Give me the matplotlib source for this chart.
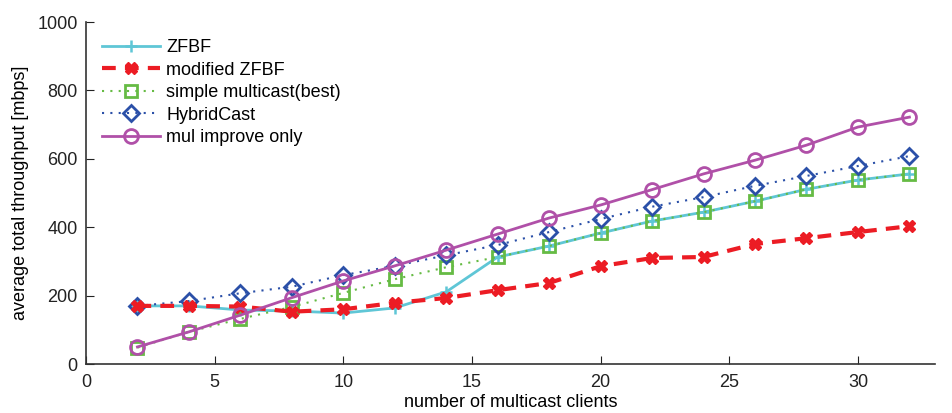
import matplotlib
matplotlib.use("Agg")
import matplotlib.pyplot as plt

plt.rcParams['font.family'] = ['Liberation Sans', 'DejaVu Sans']

clients = [2, 4, 6, 8, 10, 12, 14, 16, 18, 20, 22, 24, 26, 28, 30, 32]
zfbf = [170, 170, 158, 155, 149, 164, 211, 313, 345, 383, 418, 444, 476, 511, 538, 556]
mod_zfbf = [170, 170, 168, 153, 160, 179, 193, 216, 237, 286, 310, 313, 351, 368, 386, 403]
simple_mc = [48, 94, 132, 167, 208, 248, 283, 313, 345, 383, 418, 444, 476, 511, 538, 556]
hybridcast = [170, 184, 207, 226, 260, 287, 318, 348, 386, 424, 460, 488, 521, 550, 579, 608]
mul_improve = [50, 94, 143, 194, 243, 287, 333, 380, 427, 465, 510, 556, 596, 640, 693, 722]

labels = ['ZFBF', 'modified ZFBF', 'simple multicast(best)', 'HybridCast', 'mul improve only']
xticks = [0, 5, 10, 15, 20, 25, 30]
yticks = [0, 200, 400, 600, 800, 1000]

fig = plt.figure(figsize=(9.52, 4.13), dpi=100)
ax = fig.add_axes([0.0903, 0.1186, 0.892, 0.828])

ax.plot(clients, zfbf, color='#5FC6D6', lw=2, marker='+', ms=9, mew=1.8, label=labels[0], zorder=3)
ax.plot(clients, mod_zfbf, color='#EC1C24', lw=3, ls=(0, (3.3, 2.2)), marker='X', ms=8, mew=1,
        label=labels[1], zorder=4)
ax.plot(clients, simple_mc, color='#66BB44', lw=1.5, ls=(0, (1, 3)), marker='s', ms=8, mew=2,
        mfc='none', label=labels[2], zorder=3)
ax.plot(clients, hybridcast, color='#2B50A8', lw=1.5, ls=(0, (1, 3)), marker='D', ms=8, mew=2,
        mfc='none', label=labels[3], zorder=3)
ax.plot(clients, mul_improve, color='#B050A8', lw=2, marker='o', ms=10, mew=2, mfc='none',
        label=labels[4], zorder=5)

ax.set_xlim(0, 33)
ax.set_ylim(0, 1000)
ax.set_xticks(xticks)
ax.set_yticks(yticks)
ax.tick_params(direction='in', length=6, labelsize=13, colors='#222222')
ax.tick_params(axis='x', pad=7)
ax.tick_params(axis='y', pad=6)
for s in ['top', 'right']:
    ax.spines[s].set_visible(False)
for s in ['left', 'bottom']:
    ax.spines[s].set_color('#333333')
    ax.spines[s].set_linewidth(1.2)

ax.set_xlabel('number of multicast clients', fontsize=13, labelpad=2)
ax.set_ylabel('average total throughput [mbps]', fontsize=13, labelpad=6)

ax.legend(loc='upper left', bbox_to_anchor=(0.0, 0.997), frameon=False, fontsize=13,
          handlelength=3.2, labelspacing=0.3, handletextpad=0.35)

fig.savefig('out.png', dpi=100)
